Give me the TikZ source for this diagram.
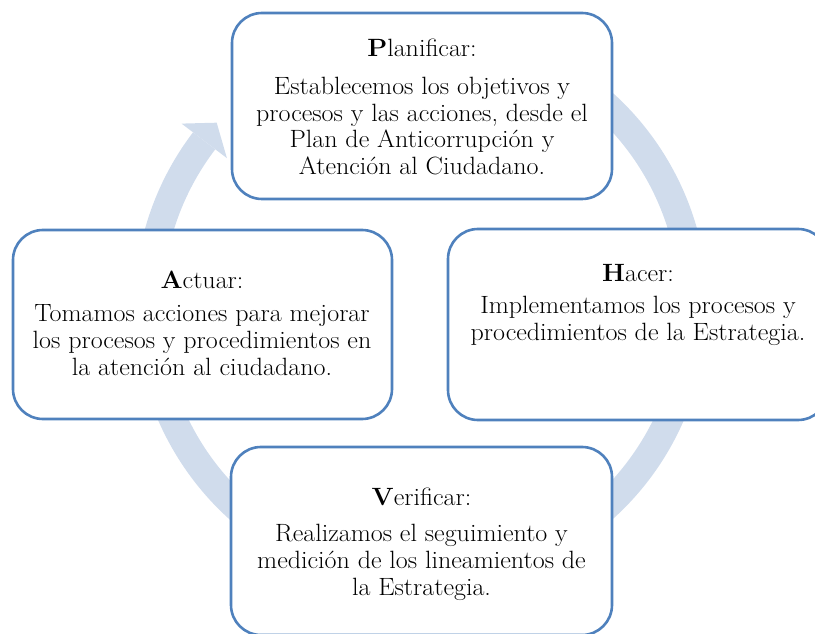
\documentclass[tikz,border=0pt]{standalone}
\usepackage{fontspec}
\setmainfont{Latin Modern Roman}[FakeStretch=1.04]
\definecolor{ringc}{RGB}{208,220,236}
\definecolor{edgec}{RGB}{79,129,189}
\begin{document}
\begin{tikzpicture}[x=1pt,y=1pt,
  box/.style={draw=edgec, line width=2.6pt, fill=white, rounded corners=30pt, inner sep=0pt},
  ttl/.style={anchor=base, inner sep=0pt, font=\fontsize{25}{26.6}\selectfont},
  body/.style={anchor=north, inner sep=0pt, align=center, font=\fontsize{25}{26.6}\selectfont}]
\clip (0,0) rectangle (815,633);
\useasboundingbox (0,0) rectangle (815,633);
\begin{scope}[shift={(421,327)}]
\fill[ringc] (120:286.6) arc[start angle=120, end angle=-217.3, radius=286.6] -- (-217.3:258.6) arc[start angle=-217.3, end angle=120, radius=258.6] -- cycle;
\fill[ringc] (142.7:301) -- (138.1:274.5) -- (142.7:244) -- cycle;
\end{scope}
% boxes
\node[box, minimum width=380, minimum height=186] (plan) at (422,527) {};
\node[box, minimum width=379, minimum height=189] (act) at (202.5,308.5) {};
\node[box, minimum width=380, minimum height=191] (hac) at (638,308.5) {};
\node[box, minimum width=381, minimum height=188] (ver) at (421.5,92) {};
% texts
\node[ttl] (plant) at (422,576.3) {\textbf{P}lanificar:};
\node[body] (planb) at (422,559.7) {\rule{0pt}{21pt}Establecemos los objetivos y\\procesos y las acciones, desde el\\Plan de Anticorrupción y\\Atención al Ciudadano.};
\node[ttl] (actt) at (202,344.7) {\textbf{A}ctuar:};
\node[body] (actb) at (202,332.3) {\rule{0pt}{21pt}Tomamos acciones para mejorar\\los procesos y procedimientos en\\la atención al ciudadano.};
\node[ttl] (hact) at (638,351.3) {\textbf{H}acer:};
\node[body] (hacb) at (638,340.7) {\rule{0pt}{21pt}Implementamos los procesos y\\procedimientos de la Estrategia.};
\node[ttl] (vert) at (421.5,128) {\textbf{V}erificar:};
\node[body] (verb) at (421.5,112.3) {\rule{0pt}{21pt}Realizamos el seguimiento y\\medición de los lineamientos de\\la Estrategia.};
\end{tikzpicture}
\end{document}
